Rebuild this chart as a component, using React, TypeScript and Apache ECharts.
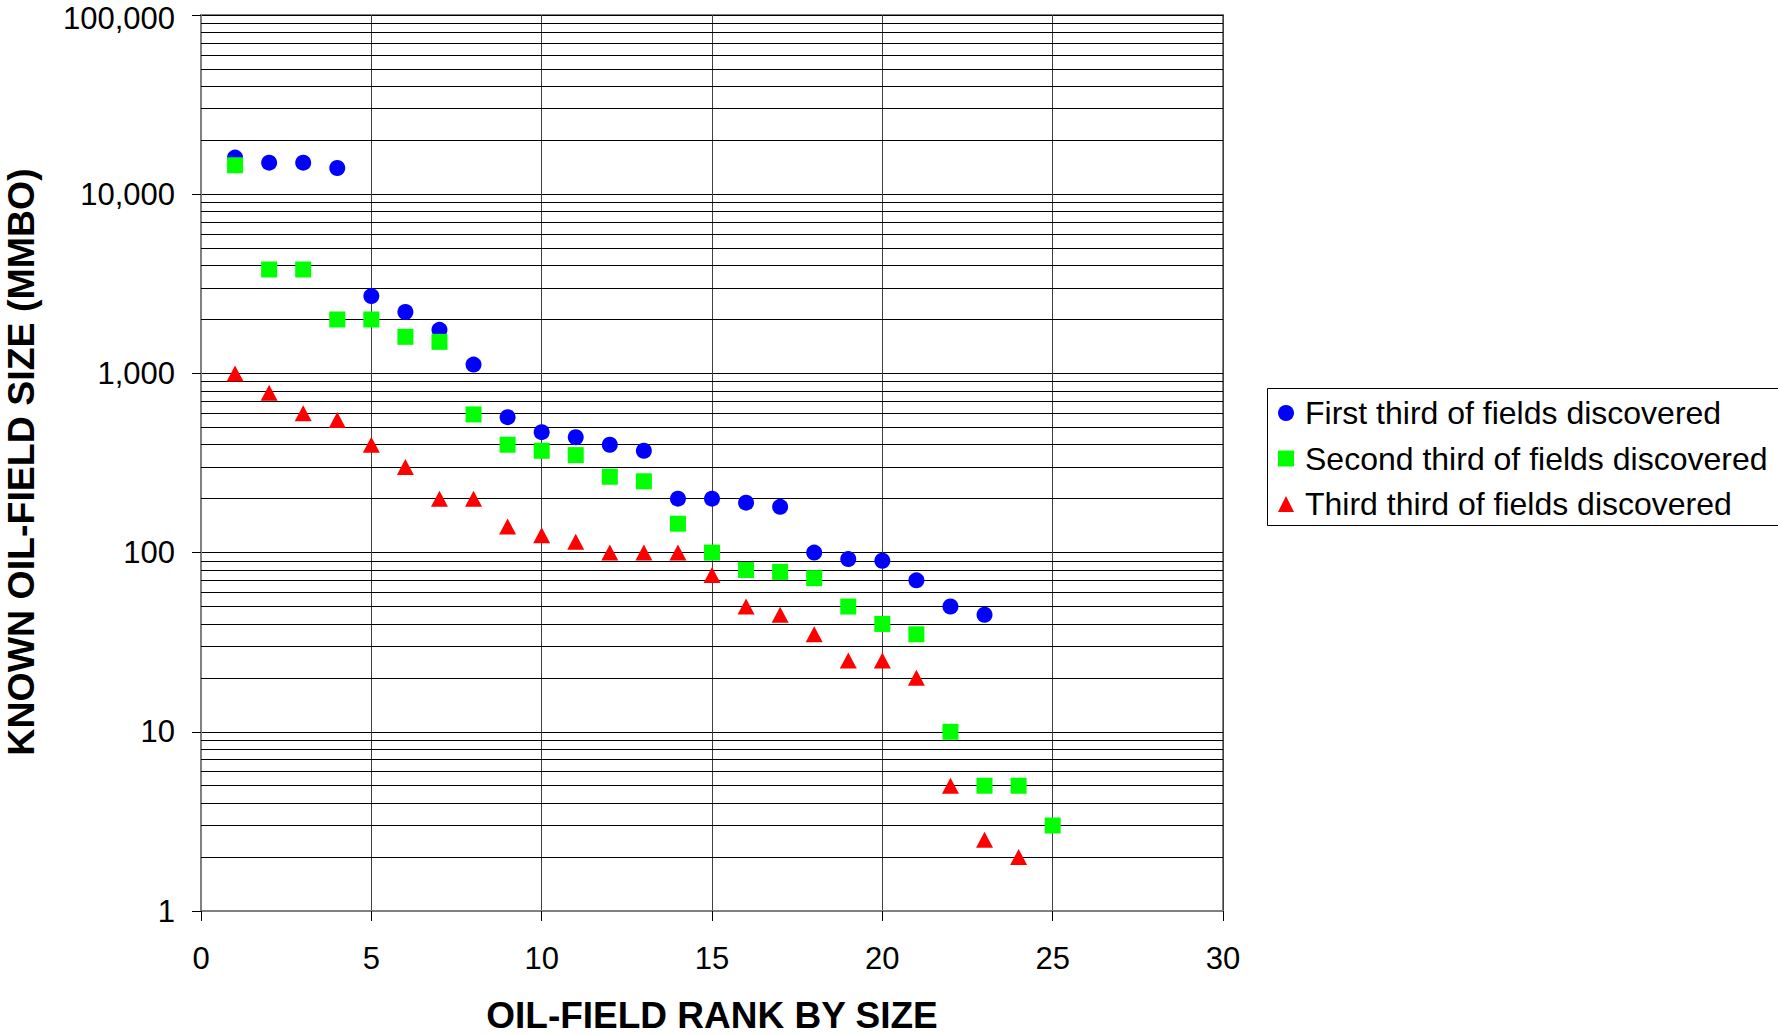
import React, { useEffect, useRef } from "react";
import * as echarts from "echarts";

const FONT = '"Liberation Sans", Arial, sans-serif';

const seriesNames = [
  "First third of fields discovered",
  "Second third of fields discovered",
  "Third third of fields discovered",
];

const ranksFirst = [1, 2, 3, 4, 5, 6, 7, 8, 9, 10, 11, 12, 13, 14, 15, 16, 17, 18, 19, 20, 21, 22, 23];
const sizesFirst = [16000, 15000, 15000, 14000, 2700, 2200, 1750, 1120, 570, 470, 440, 400, 370, 200, 200, 190, 180, 100, 92, 90, 70, 50, 45];

const ranksSecond = [1, 2, 3, 4, 5, 6, 7, 8, 9, 10, 11, 12, 13, 14, 15, 16, 17, 18, 19, 20, 21, 22, 23, 24, 25];
const sizesSecond = [14500, 3800, 3800, 2000, 2000, 1600, 1500, 590, 400, 370, 350, 265, 250, 145, 100, 80, 78, 72, 50, 40, 35, 10, 5, 5, 3];

const ranksThird = [1, 2, 3, 4, 5, 6, 7, 8, 9, 10, 11, 12, 13, 14, 15, 16, 17, 18, 19, 20, 21, 22, 23, 24];
const sizesThird = [1000, 780, 600, 550, 400, 300, 200, 200, 140, 125, 115, 100, 100, 100, 75, 50, 45, 35, 25, 25, 20, 5, 2.5, 2];

const decades = [1, 10, 100, 1000, 10000];
const minorMultipliers = [2, 3, 4, 5, 6, 7, 8, 9];

const yMin = 1;
const yMax = 100000;

const xTitle = "OIL-FIELD RANK BY SIZE";
const yTitle = "KNOWN OIL-FIELD SIZE (MMBO)";

function pairs(xs: number[], ys: number[]) {
  return xs.map((x, i) => [x, ys[i]]);
}

export default function App() {
  const ref = useRef<HTMLDivElement>(null);
  useEffect(() => {
    if (!ref.current) return;
    const chart = echarts.init(ref.current, undefined, { renderer: "svg" });

    const minorLines: any[] = [];
    decades.forEach((d) => minorMultipliers.forEach((m) => minorLines.push({ yAxis: d * m })));

    const gridLeft = 201;
    const gridTop = 15;
    const gridRight = 1778 - 1223;
    const gridBottom = 1034 - 911;

    chart.setOption({
      animation: false,
      backgroundColor: "#fff",
      grid: {
        left: gridLeft,
        top: gridTop,
        right: gridRight,
        bottom: gridBottom,
        show: true,
        borderColor: "#808080",
        borderWidth: 2,
        containLabel: false,
        outerBoundsMode: "none",
      },
      xAxis: {
        type: "value",
        min: 0,
        max: 30,
        interval: 5,
        axisLine: { show: true, lineStyle: { color: "#808080", width: 2 } },
        axisTick: { show: true, length: 10, lineStyle: { color: "#000", width: 1 } },
        axisLabel: { fontSize: 31, fontFamily: FONT, color: "#000", margin: 32 },
        splitLine: { show: true, lineStyle: { color: "#404040", width: 1 } },
      },
      yAxis: {
        type: "log",
        logBase: 10,
        min: yMin,
        max: yMax,
        axisLine: { show: true, lineStyle: { color: "#808080", width: 2 } },
        axisTick: { show: true, length: 9, lineStyle: { color: "#000", width: 1 } },
        axisLabel: {
          fontSize: 31,
          lineHeight: 26,
          fontFamily: FONT,
          color: "#000",
          margin: 26,
          formatter: (v: number) => {
            const s = Math.round(v).toLocaleString("en-US");
            return Math.round(v) >= yMax ? `{top|${s}}` : s;
          },
          rich: {
            top: {
              fontSize: 31,
              lineHeight: 26,
              fontFamily: FONT,
              color: "#000",
              padding: [6, 0, 0, 0],
            },
          },
        },
        splitLine: { show: true, lineStyle: { color: "#000", width: 1 } },
      },
      legend: {
        orient: "vertical",
        left: 1278,
        top: 397,
        padding: 0,
        itemWidth: 16,
        itemHeight: 16,
        itemGap: 13.5,
        textStyle: {
          fontSize: 32,
          lineHeight: 32,
          fontFamily: FONT,
          color: "#000",
          padding: [0, 0, 0, 6],
        },
        data: seriesNames,
      },
      graphic: [
        {
          type: "rect",
          shape: { x: 1267.5, y: 388.5, width: 540, height: 137 },
          style: { fill: "none", stroke: "#000", lineWidth: 1 },
          silent: true,
        },
        {
          type: "text",
          x: 712,
          y: 1015,
          style: {
            text: xTitle,
            fontSize: 37,
            lineHeight: 30,
            fontWeight: "bold",
            fontFamily: FONT,
            fill: "#000",
            align: "center",
            verticalAlign: "middle",
          },
        },
        {
          type: "text",
          x: 21,
          y: 462,
          rotation: Math.PI / 2,
          style: {
            text: yTitle,
            fontSize: 37.5,
            fontWeight: "bold",
            fontFamily: FONT,
            fill: "#000",
            align: "center",
            verticalAlign: "middle",
          },
        },
      ],
      series: [
        {
          name: seriesNames[0],
          type: "scatter",
          symbol: "circle",
          symbolSize: 16,
          itemStyle: { color: "#0000FF", opacity: 1 },
          data: pairs(ranksFirst, sizesFirst),
          z: 3,
          markLine: {
            silent: true,
            symbol: ["none", "none"],
            label: { show: false },
            lineStyle: { color: "#000", width: 1, type: "solid", opacity: 1 },
            emphasis: { disabled: true },
            data: minorLines,
            z: 1,
          },
        },
        {
          name: seriesNames[1],
          type: "scatter",
          symbol: "rect",
          symbolSize: 16,
          itemStyle: { color: "#00FF00", opacity: 1 },
          data: pairs(ranksSecond, sizesSecond),
          z: 4,
        },
        {
          name: seriesNames[2],
          type: "scatter",
          symbol: "triangle",
          symbolSize: [17, 16],
          itemStyle: { color: "#FF0000", opacity: 1 },
          data: pairs(ranksThird, sizesThird),
          z: 5,
        },
      ],
    });
    return () => chart.dispose();
  }, []);
  return (
    <div
      ref={ref}
      style={{ position: "fixed", left: 0, top: 0, width: 1778, height: 1034, background: "#fff" }}
    />
  );
}
